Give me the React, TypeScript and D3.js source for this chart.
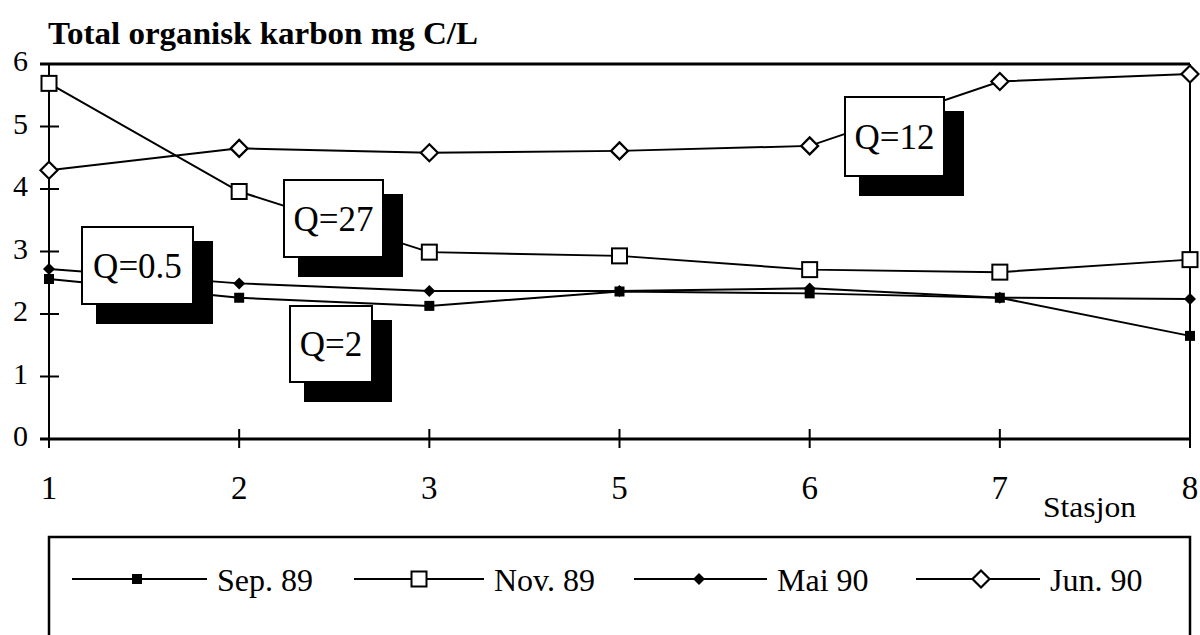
import React from "react";
import * as d3 from "d3";

const stations = ["1", "2", "3", "5", "6", "7", "8"];
const yTicks = [0, 1, 2, 3, 4, 5, 6];
const sep89 = [2.56, 2.26, 2.13, 2.36, 2.33, 2.26, 1.65];
const nov89 = [5.69, 3.96, 2.99, 2.93, 2.71, 2.67, 2.87];
const mai90 = [2.72, 2.49, 2.37, 2.37, 2.41, 2.26, 2.24];
const jun90 = [4.3, 4.65, 4.58, 4.61, 4.69, 5.72, 5.84];
const seriesNames = ["Sep. 89", "Nov. 89", "Mai 90", "Jun. 90"];
const markerTypes = ["fsquare", "osquare", "fdiamond", "odiamond"];
const notes = ["Q=0.5", "Q=2", "Q=27", "Q=12"];

const W = 1200;
const H = 635;
const FONT = "'Liberation Serif', 'Times New Roman', serif";

function Marker({ type, x, y }: { type: string; x: number; y: number }) {
  if (type === "fsquare") return <rect x={x - 5} y={y - 5} width={10} height={10} fill="#000" />;
  if (type === "osquare")
    return <rect x={x - 7.5} y={y - 7.5} width={15} height={15} fill="#fff" stroke="#000" strokeWidth={2} />;
  if (type === "fdiamond")
    return <path d={`M${x},${y - 6}L${x + 6},${y}L${x},${y + 6}L${x - 6},${y}Z`} fill="#000" />;
  return (
    <path
      d={`M${x},${y - 8.5}L${x + 8.5},${y}L${x},${y + 8.5}L${x - 8.5},${y}Z`}
      fill="#fff"
      stroke="#000"
      strokeWidth={2.2}
    />
  );
}

export default function App() {
  const x = d3.scalePoint<string>().domain(stations).range([49, 1190]);
  const y = d3.scaleLinear().domain([0, 6]).range([439, 64]);
  const series = [sep89, nov89, mai90, jun90];
  const line = d3
    .line<number>()
    .x((_, i) => x(stations[i]) as number)
    .y((d) => y(d));

  // annotation boxes: [x, y, w, h]
  const boxes: [number, number, number, number][] = [
    [82, 227, 111, 77],
    [290, 306, 82, 76],
    [284, 180, 99, 77],
    [845, 97, 99, 79],
  ];

  const legendX = [72, 354, 634, 916];
  const legendText = [217, 494, 777, 1050];
  const legendY = 579;

  return (
    <svg
      width={W}
      height={H}
      style={{ position: "absolute", left: 0, top: 0, background: "#fff" }}
      fontFamily={FONT}
    >
      <rect x={0} y={0} width={W} height={H} fill="#fff" />
      <text x={48} y={44} fontSize={32} fontWeight="bold" textLength={430} lengthAdjust="spacingAndGlyphs">
        Total organisk karbon mg C/L
      </text>

      {/* frame */}
      <line x1={40} x2={1190} y1={y(6)} y2={y(6)} stroke="#000" strokeWidth={3} />
      <line x1={1190} x2={1190} y1={y(6)} y2={448} stroke="#000" strokeWidth={2} />
      <line x1={49} x2={49} y1={y(6)} y2={448} stroke="#000" strokeWidth={2} />
      <line x1={40} x2={1190} y1={y(0)} y2={y(0)} stroke="#000" strokeWidth={3} />

      {yTicks.map((t) => (
        <g key={t}>
          <line x1={40} x2={59} y1={y(t)} y2={y(t)} stroke="#000" strokeWidth={2} />
          <text x={28} y={y(t) + 7} fontSize={30} textAnchor="end">
            {t}
          </text>
        </g>
      ))}
      {stations.map((s) => (
        <g key={s}>
          <line x1={x(s)} x2={x(s)} y1={y(0) - 10} y2={y(0) + 9} stroke="#000" strokeWidth={2} />
          <text x={x(s)} y={499} fontSize={33} textAnchor="middle">
            {s}
          </text>
        </g>
      ))}
      <text x={1043} y={517} fontSize={30} textLength={93} lengthAdjust="spacingAndGlyphs">
        Stasjon
      </text>

      {series.map((s, i) => (
        <path key={i} d={line(s) as string} fill="none" stroke="#000" strokeWidth={2} />
      ))}
      {series.map((s, i) =>
        s.map((v, j) => <Marker key={`${i}-${j}`} type={markerTypes[i]} x={x(stations[j]) as number} y={y(v)} />)
      )}

      {boxes.map(([bx, by, bw, bh], i) => (
        <g key={i}>
          <rect x={bx + 14} y={by + 14} width={bw + 6} height={bh + 6} fill="#000" />
          <rect x={bx} y={by} width={bw} height={bh} fill="#fff" stroke="#000" strokeWidth={2} />
          <text x={bx + bw / 2} y={by + bh / 2 + 12} fontSize={35} textAnchor="middle">
            {notes[i]}
          </text>
        </g>
      ))}

      {/* legend */}
      <rect x={49} y={537} width={1141} height={120} fill="#fff" stroke="#000" strokeWidth={2.5} />
      {seriesNames.map((n, i) => (
        <g key={n}>
          <line x1={legendX[i]} x2={legendText[i] - 10} y1={legendY} y2={legendY} stroke="#000" strokeWidth={2} />
          <Marker type={markerTypes[i]} x={legendX[i] + 65} y={legendY} />
          <text x={legendText[i]} y={legendY + 12} fontSize={32}>
            {n}
          </text>
        </g>
      ))}
    </svg>
  );
}
